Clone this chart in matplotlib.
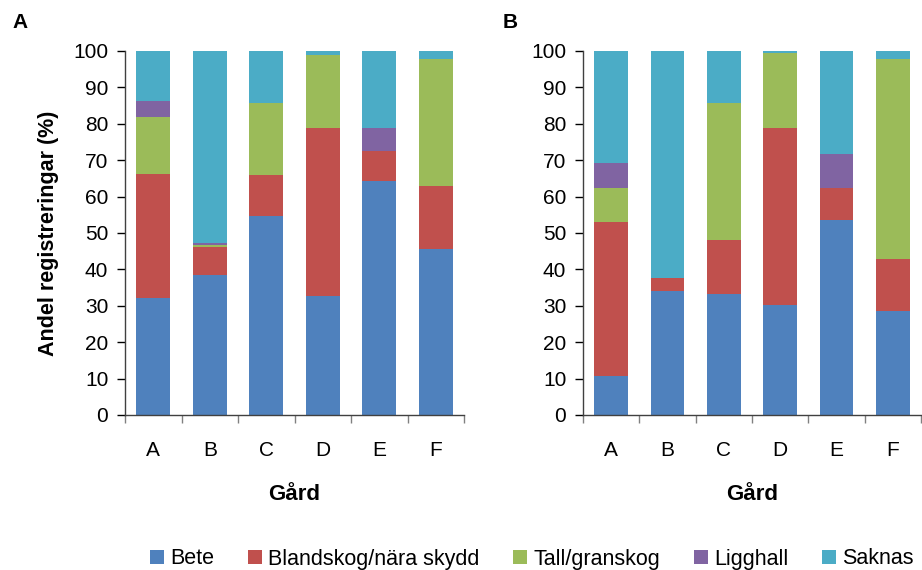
import matplotlib
matplotlib.use("Agg")
import matplotlib.pyplot as plt
import numpy as np
from matplotlib.patches import Patch

plt.rcParams['font.family'] = ['Liberation Sans', 'DejaVu Sans']

farms = ["A", "B", "C", "D", "E", "F"]
categories = ["Bete", "Blandskog/nära skydd", "Tall/granskog", "Ligghall", "Saknas"]
colors = ["#4F81BD", "#C0504D", "#9BBB59", "#8064A2", "#4BACC6"]

# Panel A
a_bete = [32.2, 38.5, 54.8, 32.8, 64.3, 45.6]
a_bland = [34.0, 7.7, 11.0, 46.0, 8.2, 17.3]
a_tall = [15.7, 0.5, 19.9, 20.1, 0.0, 34.9]
a_ligg = [4.4, 0.6, 0.0, 0.0, 6.3, 0.0]
a_saknas = [13.7, 52.7, 14.3, 1.1, 21.2, 2.2]

# Panel B
b_bete = [10.8, 34.1, 33.3, 30.2, 53.7, 28.6]
b_bland = [42.2, 3.6, 14.8, 48.6, 8.7, 14.3]
b_tall = [9.4, 0.0, 37.6, 20.7, 0.0, 54.9]
b_ligg = [6.8, 0.0, 0.0, 0.0, 9.4, 0.0]
b_saknas = [30.8, 62.3, 14.3, 0.5, 28.2, 2.2]

fig = plt.figure(figsize=(9.22, 5.70), dpi=100)

def draw(ax, series, show_ylabel):
    x = np.arange(len(farms))
    bottom = np.zeros(len(farms))
    for vals, c in zip(series, colors):
        ax.bar(x, vals, bottom=bottom, width=0.6, color=c, edgecolor='none')
        bottom += np.array(vals)
    ax.set_xlim(-0.5, len(farms) - 0.5)
    ax.set_ylim(0, 100)
    ax.set_yticks(np.arange(0, 101, 10))
    ax.set_xticks(x)
    ax.set_xticklabels(farms)
    ax.set_xticks(np.arange(-0.5, len(farms), 1.0), minor=True)
    ax.tick_params(axis='x', which='major', length=0, pad=19, labelsize=15)
    ax.tick_params(axis='x', which='minor', length=6, width=1, color='#808080', direction='out')
    ax.tick_params(axis='y', which='major', length=6, width=1, direction='out', labelsize=15, pad=6)
    for s in ['top', 'right']:
        ax.spines[s].set_visible(False)
    for s in ['left', 'bottom']:
        ax.spines[s].set_color('#404040')
        ax.spines[s].set_linewidth(1.0)
    ax.set_xlabel("Gård", fontsize=16, fontweight='bold', labelpad=17)
    if show_ylabel:
        ax.set_ylabel("Andel registreringar (%)", fontsize=15.5, fontweight='bold', labelpad=10)

axA = fig.add_axes([125/922, 155/570, 339/922, 364/570])
axB = fig.add_axes([583/922, 155/570, 338/922, 364/570])
draw(axA, [a_bete, a_bland, a_tall, a_ligg, a_saknas], True)
draw(axB, [b_bete, b_bland, b_tall, b_ligg, b_saknas], False)

fig.text(12/922, 1 - 23/570, "A", fontsize=15, fontweight='bold', va='center', ha='left')
fig.text(503/922, 1 - 23/570, "B", fontsize=15, fontweight='bold', va='center', ha='left')

handles = [Patch(facecolor=c, edgecolor='none') for c in colors]
fig.legend(handles, categories, loc='center', bbox_to_anchor=(532/922, 1 - 559/570),
           ncol=5, frameon=False, fontsize=15.5, handlelength=0.65, handleheight=0.65,
           handletextpad=0.3, columnspacing=1.55)

fig.savefig("out.png", dpi=100)
